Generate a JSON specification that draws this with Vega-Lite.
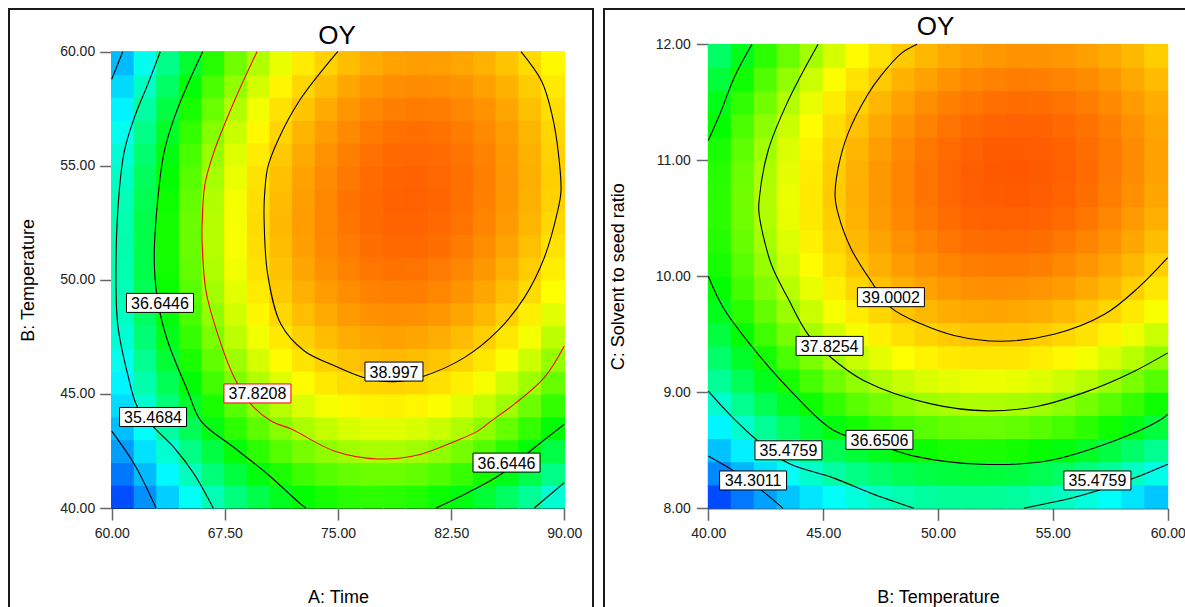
{
"$schema": "https://vega.github.io/schema/vega-lite/v6.json",
"padding": {"left": 8, "top": 8, "right": 0, "bottom": 0},
"background": "#ffffff",
"spacing": 9,
"config": {
  "view": {"stroke": "#1a1a1a", "strokeWidth": 2},
  "font": "Liberation Sans",
  "axis": {"grid": false, "labelFont": "Liberation Sans", "titleFont": "Liberation Sans", "labelFontSize": 14, "labelColor": "#222222", "titleFontSize": 18, "titleFontWeight": "normal", "titleColor": "#000000", "tickSize": 12, "tickColor": "#666666", "tickWidth": 1.5, "domainColor": "#000000", "domainWidth": 1, "labelFlush": false, "labelOverlap": false}
},
"datasets": {
"L": [
{"x":60.75,"y":40.5,"oy":33.62},{"x":62.25,"y":40.5,"oy":34.21},{"x":63.75,"y":40.5,"oy":34.75},{"x":65.25,"y":40.5,"oy":35.24},{"x":66.75,"y":40.5,"oy":35.67},{"x":68.25,"y":40.5,"oy":36.04},{"x":69.75,"y":40.5,"oy":36.36},{"x":71.25,"y":40.5,"oy":36.63},{"x":72.75,"y":40.5,"oy":36.84},{"x":74.25,"y":40.5,"oy":36.99},{"x":75.75,"y":40.5,"oy":37.09},{"x":77.25,"y":40.5,"oy":37.13},{"x":78.75,"y":40.5,"oy":37.12},{"x":80.25,"y":40.5,"oy":37.05},{"x":81.75,"y":40.5,"oy":36.93},{"x":83.25,"y":40.5,"oy":36.75},{"x":84.75,"y":40.5,"oy":36.51},{"x":86.25,"y":40.5,"oy":36.22},{"x":87.75,"y":40.5,"oy":35.88},{"x":89.25,"y":40.5,"oy":35.48},
{"x":60.75,"y":41.5,"oy":33.98},{"x":62.25,"y":41.5,"oy":34.59},{"x":63.75,"y":41.5,"oy":35.13},{"x":65.25,"y":41.5,"oy":35.62},{"x":66.75,"y":41.5,"oy":36.06},{"x":68.25,"y":41.5,"oy":36.44},{"x":69.75,"y":41.5,"oy":36.77},{"x":71.25,"y":41.5,"oy":37.03},{"x":72.75,"y":41.5,"oy":37.25},{"x":74.25,"y":41.5,"oy":37.41},{"x":75.75,"y":41.5,"oy":37.51},{"x":77.25,"y":41.5,"oy":37.56},{"x":78.75,"y":41.5,"oy":37.55},{"x":80.25,"y":41.5,"oy":37.49},{"x":81.75,"y":41.5,"oy":37.37},{"x":83.25,"y":41.5,"oy":37.2},{"x":84.75,"y":41.5,"oy":36.97},{"x":86.25,"y":41.5,"oy":36.69},{"x":87.75,"y":41.5,"oy":36.35},{"x":89.25,"y":41.5,"oy":35.96},
{"x":60.75,"y":42.5,"oy":34.32},{"x":62.25,"y":42.5,"oy":34.92},{"x":63.75,"y":42.5,"oy":35.48},{"x":65.25,"y":42.5,"oy":35.97},{"x":66.75,"y":42.5,"oy":36.41},{"x":68.25,"y":42.5,"oy":36.8},{"x":69.75,"y":42.5,"oy":37.13},{"x":71.25,"y":42.5,"oy":37.41},{"x":72.75,"y":42.5,"oy":37.63},{"x":74.25,"y":42.5,"oy":37.79},{"x":75.75,"y":42.5,"oy":37.9},{"x":77.25,"y":42.5,"oy":37.96},{"x":78.75,"y":42.5,"oy":37.96},{"x":80.25,"y":42.5,"oy":37.9},{"x":81.75,"y":42.5,"oy":37.79},{"x":83.25,"y":42.5,"oy":37.62},{"x":84.75,"y":42.5,"oy":37.4},{"x":86.25,"y":42.5,"oy":37.12},{"x":87.75,"y":42.5,"oy":36.79},{"x":89.25,"y":42.5,"oy":36.4},
{"x":60.75,"y":43.5,"oy":34.61},{"x":62.25,"y":43.5,"oy":35.22},{"x":63.75,"y":43.5,"oy":35.78},{"x":65.25,"y":43.5,"oy":36.29},{"x":66.75,"y":43.5,"oy":36.73},{"x":68.25,"y":43.5,"oy":37.13},{"x":69.75,"y":43.5,"oy":37.46},{"x":71.25,"y":43.5,"oy":37.74},{"x":72.75,"y":43.5,"oy":37.97},{"x":74.25,"y":43.5,"oy":38.14},{"x":75.75,"y":43.5,"oy":38.26},{"x":77.25,"y":43.5,"oy":38.32},{"x":78.75,"y":43.5,"oy":38.32},{"x":80.25,"y":43.5,"oy":38.27},{"x":81.75,"y":43.5,"oy":38.17},{"x":83.25,"y":43.5,"oy":38.0},{"x":84.75,"y":43.5,"oy":37.79},{"x":86.25,"y":43.5,"oy":37.52},{"x":87.75,"y":43.5,"oy":37.19},{"x":89.25,"y":43.5,"oy":36.81},
{"x":60.75,"y":44.5,"oy":34.87},{"x":62.25,"y":44.5,"oy":35.49},{"x":63.75,"y":44.5,"oy":36.06},{"x":65.25,"y":44.5,"oy":36.57},{"x":66.75,"y":44.5,"oy":37.02},{"x":68.25,"y":44.5,"oy":37.42},{"x":69.75,"y":44.5,"oy":37.76},{"x":71.25,"y":44.5,"oy":38.05},{"x":72.75,"y":44.5,"oy":38.28},{"x":74.25,"y":44.5,"oy":38.46},{"x":75.75,"y":44.5,"oy":38.58},{"x":77.25,"y":44.5,"oy":38.64},{"x":78.75,"y":44.5,"oy":38.65},{"x":80.25,"y":44.5,"oy":38.61},{"x":81.75,"y":44.5,"oy":38.51},{"x":83.25,"y":44.5,"oy":38.35},{"x":84.75,"y":44.5,"oy":38.14},{"x":86.25,"y":44.5,"oy":37.88},{"x":87.75,"y":44.5,"oy":37.56},{"x":89.25,"y":44.5,"oy":37.18},
{"x":60.75,"y":45.5,"oy":35.1},{"x":62.25,"y":45.5,"oy":35.72},{"x":63.75,"y":45.5,"oy":36.29},{"x":65.25,"y":45.5,"oy":36.81},{"x":66.75,"y":45.5,"oy":37.27},{"x":68.25,"y":45.5,"oy":37.67},{"x":69.75,"y":45.5,"oy":38.02},{"x":71.25,"y":45.5,"oy":38.31},{"x":72.75,"y":45.5,"oy":38.55},{"x":74.25,"y":45.5,"oy":38.74},{"x":75.75,"y":45.5,"oy":38.86},{"x":77.25,"y":45.5,"oy":38.93},{"x":78.75,"y":45.5,"oy":38.95},{"x":80.25,"y":45.5,"oy":38.91},{"x":81.75,"y":45.5,"oy":38.82},{"x":83.25,"y":45.5,"oy":38.67},{"x":84.75,"y":45.5,"oy":38.46},{"x":86.25,"y":45.5,"oy":38.2},{"x":87.75,"y":45.5,"oy":37.89},{"x":89.25,"y":45.5,"oy":37.52},
{"x":60.75,"y":46.5,"oy":35.29},{"x":62.25,"y":46.5,"oy":35.92},{"x":63.75,"y":46.5,"oy":36.5},{"x":65.25,"y":46.5,"oy":37.02},{"x":66.75,"y":46.5,"oy":37.48},{"x":68.25,"y":46.5,"oy":37.89},{"x":69.75,"y":46.5,"oy":38.25},{"x":71.25,"y":46.5,"oy":38.55},{"x":72.75,"y":46.5,"oy":38.79},{"x":74.25,"y":46.5,"oy":38.98},{"x":75.75,"y":46.5,"oy":39.11},{"x":77.25,"y":46.5,"oy":39.19},{"x":78.75,"y":46.5,"oy":39.21},{"x":80.25,"y":46.5,"oy":39.18},{"x":81.75,"y":46.5,"oy":39.09},{"x":83.25,"y":46.5,"oy":38.95},{"x":84.75,"y":46.5,"oy":38.75},{"x":86.25,"y":46.5,"oy":38.5},{"x":87.75,"y":46.5,"oy":38.19},{"x":89.25,"y":46.5,"oy":37.82},
{"x":60.75,"y":47.5,"oy":35.45},{"x":62.25,"y":47.5,"oy":36.08},{"x":63.75,"y":47.5,"oy":36.67},{"x":65.25,"y":47.5,"oy":37.19},{"x":66.75,"y":47.5,"oy":37.66},{"x":68.25,"y":47.5,"oy":38.08},{"x":69.75,"y":47.5,"oy":38.44},{"x":71.25,"y":47.5,"oy":38.74},{"x":72.75,"y":47.5,"oy":38.99},{"x":74.25,"y":47.5,"oy":39.19},{"x":75.75,"y":47.5,"oy":39.33},{"x":77.25,"y":47.5,"oy":39.41},{"x":78.75,"y":47.5,"oy":39.44},{"x":80.25,"y":47.5,"oy":39.41},{"x":81.75,"y":47.5,"oy":39.33},{"x":83.25,"y":47.5,"oy":39.19},{"x":84.75,"y":47.5,"oy":39.0},{"x":86.25,"y":47.5,"oy":38.75},{"x":87.75,"y":47.5,"oy":38.45},{"x":89.25,"y":47.5,"oy":38.09},
{"x":60.75,"y":48.5,"oy":35.57},{"x":62.25,"y":48.5,"oy":36.21},{"x":63.75,"y":48.5,"oy":36.8},{"x":65.25,"y":48.5,"oy":37.33},{"x":66.75,"y":48.5,"oy":37.81},{"x":68.25,"y":48.5,"oy":38.23},{"x":69.75,"y":48.5,"oy":38.6},{"x":71.25,"y":48.5,"oy":38.91},{"x":72.75,"y":48.5,"oy":39.16},{"x":74.25,"y":48.5,"oy":39.36},{"x":75.75,"y":48.5,"oy":39.51},{"x":77.25,"y":48.5,"oy":39.6},{"x":78.75,"y":48.5,"oy":39.63},{"x":80.25,"y":48.5,"oy":39.61},{"x":81.75,"y":48.5,"oy":39.54},{"x":83.25,"y":48.5,"oy":39.4},{"x":84.75,"y":48.5,"oy":39.22},{"x":86.25,"y":48.5,"oy":38.98},{"x":87.75,"y":48.5,"oy":38.68},{"x":89.25,"y":48.5,"oy":38.33},
{"x":60.75,"y":49.5,"oy":35.65},{"x":62.25,"y":49.5,"oy":36.3},{"x":63.75,"y":49.5,"oy":36.9},{"x":65.25,"y":49.5,"oy":37.43},{"x":66.75,"y":49.5,"oy":37.92},{"x":68.25,"y":49.5,"oy":38.35},{"x":69.75,"y":49.5,"oy":38.72},{"x":71.25,"y":49.5,"oy":39.04},{"x":72.75,"y":49.5,"oy":39.3},{"x":74.25,"y":49.5,"oy":39.5},{"x":75.75,"y":49.5,"oy":39.65},{"x":77.25,"y":49.5,"oy":39.75},{"x":78.75,"y":49.5,"oy":39.79},{"x":80.25,"y":49.5,"oy":39.78},{"x":81.75,"y":49.5,"oy":39.71},{"x":83.25,"y":49.5,"oy":39.58},{"x":84.75,"y":49.5,"oy":39.4},{"x":86.25,"y":49.5,"oy":39.16},{"x":87.75,"y":49.5,"oy":38.87},{"x":89.25,"y":49.5,"oy":38.52},
{"x":60.75,"y":50.5,"oy":35.7},{"x":62.25,"y":50.5,"oy":36.36},{"x":63.75,"y":50.5,"oy":36.96},{"x":65.25,"y":50.5,"oy":37.5},{"x":66.75,"y":50.5,"oy":37.99},{"x":68.25,"y":50.5,"oy":38.43},{"x":69.75,"y":50.5,"oy":38.8},{"x":71.25,"y":50.5,"oy":39.13},{"x":72.75,"y":50.5,"oy":39.4},{"x":74.25,"y":50.5,"oy":39.61},{"x":75.75,"y":50.5,"oy":39.76},{"x":77.25,"y":50.5,"oy":39.87},{"x":78.75,"y":50.5,"oy":39.91},{"x":80.25,"y":50.5,"oy":39.9},{"x":81.75,"y":50.5,"oy":39.84},{"x":83.25,"y":50.5,"oy":39.72},{"x":84.75,"y":50.5,"oy":39.54},{"x":86.25,"y":50.5,"oy":39.31},{"x":87.75,"y":50.5,"oy":39.03},{"x":89.25,"y":50.5,"oy":38.69},
{"x":60.75,"y":51.5,"oy":35.72},{"x":62.25,"y":51.5,"oy":36.38},{"x":63.75,"y":51.5,"oy":36.99},{"x":65.25,"y":51.5,"oy":37.54},{"x":66.75,"y":51.5,"oy":38.03},{"x":68.25,"y":51.5,"oy":38.47},{"x":69.75,"y":51.5,"oy":38.86},{"x":71.25,"y":51.5,"oy":39.18},{"x":72.75,"y":51.5,"oy":39.46},{"x":74.25,"y":51.5,"oy":39.68},{"x":75.75,"y":51.5,"oy":39.84},{"x":77.25,"y":51.5,"oy":39.95},{"x":78.75,"y":51.5,"oy":40.0},{"x":80.25,"y":51.5,"oy":40.0},{"x":81.75,"y":51.5,"oy":39.94},{"x":83.25,"y":51.5,"oy":39.82},{"x":84.75,"y":51.5,"oy":39.65},{"x":86.25,"y":51.5,"oy":39.43},{"x":87.75,"y":51.5,"oy":39.15},{"x":89.25,"y":51.5,"oy":38.81},
{"x":60.75,"y":52.5,"oy":35.7},{"x":62.25,"y":52.5,"oy":36.37},{"x":63.75,"y":52.5,"oy":36.98},{"x":65.25,"y":52.5,"oy":37.54},{"x":66.75,"y":52.5,"oy":38.04},{"x":68.25,"y":52.5,"oy":38.48},{"x":69.75,"y":52.5,"oy":38.87},{"x":71.25,"y":52.5,"oy":39.21},{"x":72.75,"y":52.5,"oy":39.49},{"x":74.25,"y":52.5,"oy":39.71},{"x":75.75,"y":52.5,"oy":39.88},{"x":77.25,"y":52.5,"oy":39.99},{"x":78.75,"y":52.5,"oy":40.05},{"x":80.25,"y":52.5,"oy":40.05},{"x":81.75,"y":52.5,"oy":40.0},{"x":83.25,"y":52.5,"oy":39.89},{"x":84.75,"y":52.5,"oy":39.73},{"x":86.25,"y":52.5,"oy":39.51},{"x":87.75,"y":52.5,"oy":39.24},{"x":89.25,"y":52.5,"oy":38.91},
{"x":60.75,"y":53.5,"oy":35.65},{"x":62.25,"y":53.5,"oy":36.32},{"x":63.75,"y":53.5,"oy":36.94},{"x":65.25,"y":53.5,"oy":37.5},{"x":66.75,"y":53.5,"oy":38.01},{"x":68.25,"y":53.5,"oy":38.46},{"x":69.75,"y":53.5,"oy":38.85},{"x":71.25,"y":53.5,"oy":39.19},{"x":72.75,"y":53.5,"oy":39.48},{"x":74.25,"y":53.5,"oy":39.71},{"x":75.75,"y":53.5,"oy":39.89},{"x":77.25,"y":53.5,"oy":40.0},{"x":78.75,"y":53.5,"oy":40.07},{"x":80.25,"y":53.5,"oy":40.08},{"x":81.75,"y":53.5,"oy":40.03},{"x":83.25,"y":53.5,"oy":39.93},{"x":84.75,"y":53.5,"oy":39.77},{"x":86.25,"y":53.5,"oy":39.56},{"x":87.75,"y":53.5,"oy":39.29},{"x":89.25,"y":53.5,"oy":38.97},
{"x":60.75,"y":54.5,"oy":35.56},{"x":62.25,"y":54.5,"oy":36.24},{"x":63.75,"y":54.5,"oy":36.86},{"x":65.25,"y":54.5,"oy":37.43},{"x":66.75,"y":54.5,"oy":37.94},{"x":68.25,"y":54.5,"oy":38.4},{"x":69.75,"y":54.5,"oy":38.8},{"x":71.25,"y":54.5,"oy":39.15},{"x":72.75,"y":54.5,"oy":39.44},{"x":74.25,"y":54.5,"oy":39.67},{"x":75.75,"y":54.5,"oy":39.86},{"x":77.25,"y":54.5,"oy":39.98},{"x":78.75,"y":54.5,"oy":40.05},{"x":80.25,"y":54.5,"oy":40.07},{"x":81.75,"y":54.5,"oy":40.02},{"x":83.25,"y":54.5,"oy":39.93},{"x":84.75,"y":54.5,"oy":39.78},{"x":86.25,"y":54.5,"oy":39.57},{"x":87.75,"y":54.5,"oy":39.31},{"x":89.25,"y":54.5,"oy":38.99},
{"x":60.75,"y":55.5,"oy":35.44},{"x":62.25,"y":55.5,"oy":36.12},{"x":63.75,"y":55.5,"oy":36.75},{"x":65.25,"y":55.5,"oy":37.32},{"x":66.75,"y":55.5,"oy":37.84},{"x":68.25,"y":55.5,"oy":38.3},{"x":69.75,"y":55.5,"oy":38.71},{"x":71.25,"y":55.5,"oy":39.06},{"x":72.75,"y":55.5,"oy":39.36},{"x":74.25,"y":55.5,"oy":39.6},{"x":75.75,"y":55.5,"oy":39.79},{"x":77.25,"y":55.5,"oy":39.92},{"x":78.75,"y":55.5,"oy":40.0},{"x":80.25,"y":55.5,"oy":40.02},{"x":81.75,"y":55.5,"oy":39.98},{"x":83.25,"y":55.5,"oy":39.89},{"x":84.75,"y":55.5,"oy":39.75},{"x":86.25,"y":55.5,"oy":39.55},{"x":87.75,"y":55.5,"oy":39.29},{"x":89.25,"y":55.5,"oy":38.98},
{"x":60.75,"y":56.5,"oy":35.28},{"x":62.25,"y":56.5,"oy":35.97},{"x":63.75,"y":56.5,"oy":36.6},{"x":65.25,"y":56.5,"oy":37.18},{"x":66.75,"y":56.5,"oy":37.71},{"x":68.25,"y":56.5,"oy":38.18},{"x":69.75,"y":56.5,"oy":38.59},{"x":71.25,"y":56.5,"oy":38.95},{"x":72.75,"y":56.5,"oy":39.25},{"x":74.25,"y":56.5,"oy":39.5},{"x":75.75,"y":56.5,"oy":39.69},{"x":77.25,"y":56.5,"oy":39.83},{"x":78.75,"y":56.5,"oy":39.91},{"x":80.25,"y":56.5,"oy":39.94},{"x":81.75,"y":56.5,"oy":39.91},{"x":83.25,"y":56.5,"oy":39.82},{"x":84.75,"y":56.5,"oy":39.68},{"x":86.25,"y":56.5,"oy":39.49},{"x":87.75,"y":56.5,"oy":39.24},{"x":89.25,"y":56.5,"oy":38.93},
{"x":60.75,"y":57.5,"oy":35.08},{"x":62.25,"y":57.5,"oy":35.78},{"x":63.75,"y":57.5,"oy":36.42},{"x":65.25,"y":57.5,"oy":37.01},{"x":66.75,"y":57.5,"oy":37.54},{"x":68.25,"y":57.5,"oy":38.01},{"x":69.75,"y":57.5,"oy":38.43},{"x":71.25,"y":57.5,"oy":38.8},{"x":72.75,"y":57.5,"oy":39.1},{"x":74.25,"y":57.5,"oy":39.36},{"x":75.75,"y":57.5,"oy":39.56},{"x":77.25,"y":57.5,"oy":39.7},{"x":78.75,"y":57.5,"oy":39.79},{"x":80.25,"y":57.5,"oy":39.82},{"x":81.75,"y":57.5,"oy":39.8},{"x":83.25,"y":57.5,"oy":39.72},{"x":84.75,"y":57.5,"oy":39.58},{"x":86.25,"y":57.5,"oy":39.4},{"x":87.75,"y":57.5,"oy":39.15},{"x":89.25,"y":57.5,"oy":38.85},
{"x":60.75,"y":58.5,"oy":34.85},{"x":62.25,"y":58.5,"oy":35.56},{"x":63.75,"y":58.5,"oy":36.2},{"x":65.25,"y":58.5,"oy":36.79},{"x":66.75,"y":58.5,"oy":37.33},{"x":68.25,"y":58.5,"oy":37.81},{"x":69.75,"y":58.5,"oy":38.24},{"x":71.25,"y":58.5,"oy":38.61},{"x":72.75,"y":58.5,"oy":38.92},{"x":74.25,"y":58.5,"oy":39.18},{"x":75.75,"y":58.5,"oy":39.39},{"x":77.25,"y":58.5,"oy":39.54},{"x":78.75,"y":58.5,"oy":39.63},{"x":80.25,"y":58.5,"oy":39.67},{"x":81.75,"y":58.5,"oy":39.65},{"x":83.25,"y":58.5,"oy":39.58},{"x":84.75,"y":58.5,"oy":39.45},{"x":86.25,"y":58.5,"oy":39.27},{"x":87.75,"y":58.5,"oy":39.03},{"x":89.25,"y":58.5,"oy":38.73},
{"x":60.75,"y":59.5,"oy":34.59},{"x":62.25,"y":59.5,"oy":35.3},{"x":63.75,"y":59.5,"oy":35.95},{"x":65.25,"y":59.5,"oy":36.55},{"x":66.75,"y":59.5,"oy":37.09},{"x":68.25,"y":59.5,"oy":37.58},{"x":69.75,"y":59.5,"oy":38.01},{"x":71.25,"y":59.5,"oy":38.38},{"x":72.75,"y":59.5,"oy":38.71},{"x":74.25,"y":59.5,"oy":38.97},{"x":75.75,"y":59.5,"oy":39.18},{"x":77.25,"y":59.5,"oy":39.34},{"x":78.75,"y":59.5,"oy":39.44},{"x":80.25,"y":59.5,"oy":39.48},{"x":81.75,"y":59.5,"oy":39.47},{"x":83.25,"y":59.5,"oy":39.4},{"x":84.75,"y":59.5,"oy":39.28},{"x":86.25,"y":59.5,"oy":39.1},{"x":87.75,"y":59.5,"oy":38.87},{"x":89.25,"y":59.5,"oy":38.58}
],
"R": [
{"x":40.5,"y":8.1,"oy":33.6},{"x":41.5,"y":8.1,"oy":33.99},{"x":42.5,"y":8.1,"oy":34.35},{"x":43.5,"y":8.1,"oy":34.67},{"x":44.5,"y":8.1,"oy":34.96},{"x":45.5,"y":8.1,"oy":35.2},{"x":46.5,"y":8.1,"oy":35.41},{"x":47.5,"y":8.1,"oy":35.58},{"x":48.5,"y":8.1,"oy":35.71},{"x":49.5,"y":8.1,"oy":35.81},{"x":50.5,"y":8.1,"oy":35.86},{"x":51.5,"y":8.1,"oy":35.88},{"x":52.5,"y":8.1,"oy":35.86},{"x":53.5,"y":8.1,"oy":35.81},{"x":54.5,"y":8.1,"oy":35.71},{"x":55.5,"y":8.1,"oy":35.58},{"x":56.5,"y":8.1,"oy":35.42},{"x":57.5,"y":8.1,"oy":35.21},{"x":58.5,"y":8.1,"oy":34.96},{"x":59.5,"y":8.1,"oy":34.68},
{"x":40.5,"y":8.3,"oy":34.14},{"x":41.5,"y":8.3,"oy":34.54},{"x":42.5,"y":8.3,"oy":34.9},{"x":43.5,"y":8.3,"oy":35.23},{"x":44.5,"y":8.3,"oy":35.52},{"x":45.5,"y":8.3,"oy":35.77},{"x":46.5,"y":8.3,"oy":35.98},{"x":47.5,"y":8.3,"oy":36.15},{"x":48.5,"y":8.3,"oy":36.29},{"x":49.5,"y":8.3,"oy":36.39},{"x":50.5,"y":8.3,"oy":36.45},{"x":51.5,"y":8.3,"oy":36.48},{"x":52.5,"y":8.3,"oy":36.46},{"x":53.5,"y":8.3,"oy":36.41},{"x":54.5,"y":8.3,"oy":36.32},{"x":55.5,"y":8.3,"oy":36.2},{"x":56.5,"y":8.3,"oy":36.03},{"x":57.5,"y":8.3,"oy":35.83},{"x":58.5,"y":8.3,"oy":35.59},{"x":59.5,"y":8.3,"oy":35.32},
{"x":40.5,"y":8.5,"oy":34.64},{"x":41.5,"y":8.5,"oy":35.04},{"x":42.5,"y":8.5,"oy":35.41},{"x":43.5,"y":8.5,"oy":35.74},{"x":44.5,"y":8.5,"oy":36.03},{"x":45.5,"y":8.5,"oy":36.29},{"x":46.5,"y":8.5,"oy":36.5},{"x":47.5,"y":8.5,"oy":36.68},{"x":48.5,"y":8.5,"oy":36.83},{"x":49.5,"y":8.5,"oy":36.93},{"x":50.5,"y":8.5,"oy":37.0},{"x":51.5,"y":8.5,"oy":37.03},{"x":52.5,"y":8.5,"oy":37.02},{"x":53.5,"y":8.5,"oy":36.97},{"x":54.5,"y":8.5,"oy":36.89},{"x":55.5,"y":8.5,"oy":36.77},{"x":56.5,"y":8.5,"oy":36.61},{"x":57.5,"y":8.5,"oy":36.41},{"x":58.5,"y":8.5,"oy":36.18},{"x":59.5,"y":8.5,"oy":35.9},
{"x":40.5,"y":8.7,"oy":35.09},{"x":41.5,"y":8.7,"oy":35.5},{"x":42.5,"y":8.7,"oy":35.87},{"x":43.5,"y":8.7,"oy":36.21},{"x":44.5,"y":8.7,"oy":36.5},{"x":45.5,"y":8.7,"oy":36.76},{"x":46.5,"y":8.7,"oy":36.98},{"x":47.5,"y":8.7,"oy":37.17},{"x":48.5,"y":8.7,"oy":37.32},{"x":49.5,"y":8.7,"oy":37.43},{"x":50.5,"y":8.7,"oy":37.5},{"x":51.5,"y":8.7,"oy":37.53},{"x":52.5,"y":8.7,"oy":37.53},{"x":53.5,"y":8.7,"oy":37.49},{"x":54.5,"y":8.7,"oy":37.41},{"x":55.5,"y":8.7,"oy":37.29},{"x":56.5,"y":8.7,"oy":37.14},{"x":57.5,"y":8.7,"oy":36.94},{"x":58.5,"y":8.7,"oy":36.71},{"x":59.5,"y":8.7,"oy":36.45},
{"x":40.5,"y":8.9,"oy":35.49},{"x":41.5,"y":8.9,"oy":35.91},{"x":42.5,"y":8.9,"oy":36.29},{"x":43.5,"y":8.9,"oy":36.63},{"x":44.5,"y":8.9,"oy":36.93},{"x":45.5,"y":8.9,"oy":37.19},{"x":46.5,"y":8.9,"oy":37.42},{"x":47.5,"y":8.9,"oy":37.61},{"x":48.5,"y":8.9,"oy":37.76},{"x":49.5,"y":8.9,"oy":37.88},{"x":50.5,"y":8.9,"oy":37.95},{"x":51.5,"y":8.9,"oy":37.99},{"x":52.5,"y":8.9,"oy":37.99},{"x":53.5,"y":8.9,"oy":37.95},{"x":54.5,"y":8.9,"oy":37.88},{"x":55.5,"y":8.9,"oy":37.77},{"x":56.5,"y":8.9,"oy":37.62},{"x":57.5,"y":8.9,"oy":37.43},{"x":58.5,"y":8.9,"oy":37.21},{"x":59.5,"y":8.9,"oy":36.94},
{"x":40.5,"y":9.1,"oy":35.86},{"x":41.5,"y":9.1,"oy":36.28},{"x":42.5,"y":9.1,"oy":36.66},{"x":43.5,"y":9.1,"oy":37.0},{"x":44.5,"y":9.1,"oy":37.31},{"x":45.5,"y":9.1,"oy":37.58},{"x":46.5,"y":9.1,"oy":37.81},{"x":47.5,"y":9.1,"oy":38.0},{"x":48.5,"y":9.1,"oy":38.16},{"x":49.5,"y":9.1,"oy":38.28},{"x":50.5,"y":9.1,"oy":38.36},{"x":51.5,"y":9.1,"oy":38.4},{"x":52.5,"y":9.1,"oy":38.41},{"x":53.5,"y":9.1,"oy":38.38},{"x":54.5,"y":9.1,"oy":38.31},{"x":55.5,"y":9.1,"oy":38.2},{"x":56.5,"y":9.1,"oy":38.06},{"x":57.5,"y":9.1,"oy":37.87},{"x":58.5,"y":9.1,"oy":37.65},{"x":59.5,"y":9.1,"oy":37.4},
{"x":40.5,"y":9.3,"oy":36.17},{"x":41.5,"y":9.3,"oy":36.6},{"x":42.5,"y":9.3,"oy":36.98},{"x":43.5,"y":9.3,"oy":37.33},{"x":44.5,"y":9.3,"oy":37.65},{"x":45.5,"y":9.3,"oy":37.92},{"x":46.5,"y":9.3,"oy":38.16},{"x":47.5,"y":9.3,"oy":38.36},{"x":48.5,"y":9.3,"oy":38.52},{"x":49.5,"y":9.3,"oy":38.64},{"x":50.5,"y":9.3,"oy":38.73},{"x":51.5,"y":9.3,"oy":38.77},{"x":52.5,"y":9.3,"oy":38.78},{"x":53.5,"y":9.3,"oy":38.76},{"x":54.5,"y":9.3,"oy":38.69},{"x":55.5,"y":9.3,"oy":38.59},{"x":56.5,"y":9.3,"oy":38.45},{"x":57.5,"y":9.3,"oy":38.27},{"x":58.5,"y":9.3,"oy":38.06},{"x":59.5,"y":9.3,"oy":37.81},
{"x":40.5,"y":9.5,"oy":36.44},{"x":41.5,"y":9.5,"oy":36.87},{"x":42.5,"y":9.5,"oy":37.27},{"x":43.5,"y":9.5,"oy":37.62},{"x":44.5,"y":9.5,"oy":37.94},{"x":45.5,"y":9.5,"oy":38.22},{"x":46.5,"y":9.5,"oy":38.46},{"x":47.5,"y":9.5,"oy":38.66},{"x":48.5,"y":9.5,"oy":38.83},{"x":49.5,"y":9.5,"oy":38.96},{"x":50.5,"y":9.5,"oy":39.05},{"x":51.5,"y":9.5,"oy":39.1},{"x":52.5,"y":9.5,"oy":39.11},{"x":53.5,"y":9.5,"oy":39.09},{"x":54.5,"y":9.5,"oy":39.03},{"x":55.5,"y":9.5,"oy":38.93},{"x":56.5,"y":9.5,"oy":38.8},{"x":57.5,"y":9.5,"oy":38.63},{"x":58.5,"y":9.5,"oy":38.42},{"x":59.5,"y":9.5,"oy":38.17},
{"x":40.5,"y":9.7,"oy":36.67},{"x":41.5,"y":9.7,"oy":37.11},{"x":42.5,"y":9.7,"oy":37.5},{"x":43.5,"y":9.7,"oy":37.86},{"x":44.5,"y":9.7,"oy":38.18},{"x":45.5,"y":9.7,"oy":38.47},{"x":46.5,"y":9.7,"oy":38.71},{"x":47.5,"y":9.7,"oy":38.92},{"x":48.5,"y":9.7,"oy":39.09},{"x":49.5,"y":9.7,"oy":39.22},{"x":50.5,"y":9.7,"oy":39.32},{"x":51.5,"y":9.7,"oy":39.38},{"x":52.5,"y":9.7,"oy":39.4},{"x":53.5,"y":9.7,"oy":39.38},{"x":54.5,"y":9.7,"oy":39.33},{"x":55.5,"y":9.7,"oy":39.23},{"x":56.5,"y":9.7,"oy":39.1},{"x":57.5,"y":9.7,"oy":38.93},{"x":58.5,"y":9.7,"oy":38.73},{"x":59.5,"y":9.7,"oy":38.49},
{"x":40.5,"y":9.9,"oy":36.85},{"x":41.5,"y":9.9,"oy":37.29},{"x":42.5,"y":9.9,"oy":37.69},{"x":43.5,"y":9.9,"oy":38.06},{"x":44.5,"y":9.9,"oy":38.38},{"x":45.5,"y":9.9,"oy":38.67},{"x":46.5,"y":9.9,"oy":38.92},{"x":47.5,"y":9.9,"oy":39.14},{"x":48.5,"y":9.9,"oy":39.31},{"x":49.5,"y":9.9,"oy":39.45},{"x":50.5,"y":9.9,"oy":39.55},{"x":51.5,"y":9.9,"oy":39.61},{"x":52.5,"y":9.9,"oy":39.64},{"x":53.5,"y":9.9,"oy":39.62},{"x":54.5,"y":9.9,"oy":39.57},{"x":55.5,"y":9.9,"oy":39.49},{"x":56.5,"y":9.9,"oy":39.36},{"x":57.5,"y":9.9,"oy":39.2},{"x":58.5,"y":9.9,"oy":39.0},{"x":59.5,"y":9.9,"oy":38.76},
{"x":40.5,"y":10.1,"oy":36.99},{"x":41.5,"y":10.1,"oy":37.43},{"x":42.5,"y":10.1,"oy":37.84},{"x":43.5,"y":10.1,"oy":38.21},{"x":44.5,"y":10.1,"oy":38.54},{"x":45.5,"y":10.1,"oy":38.83},{"x":46.5,"y":10.1,"oy":39.09},{"x":47.5,"y":10.1,"oy":39.31},{"x":48.5,"y":10.1,"oy":39.49},{"x":49.5,"y":10.1,"oy":39.63},{"x":50.5,"y":10.1,"oy":39.73},{"x":51.5,"y":10.1,"oy":39.8},{"x":52.5,"y":10.1,"oy":39.83},{"x":53.5,"y":10.1,"oy":39.82},{"x":54.5,"y":10.1,"oy":39.78},{"x":55.5,"y":10.1,"oy":39.69},{"x":56.5,"y":10.1,"oy":39.57},{"x":57.5,"y":10.1,"oy":39.42},{"x":58.5,"y":10.1,"oy":39.22},{"x":59.5,"y":10.1,"oy":38.99},
{"x":40.5,"y":10.3,"oy":37.08},{"x":41.5,"y":10.3,"oy":37.53},{"x":42.5,"y":10.3,"oy":37.94},{"x":43.5,"y":10.3,"oy":38.31},{"x":44.5,"y":10.3,"oy":38.65},{"x":45.5,"y":10.3,"oy":38.95},{"x":46.5,"y":10.3,"oy":39.21},{"x":47.5,"y":10.3,"oy":39.43},{"x":48.5,"y":10.3,"oy":39.62},{"x":49.5,"y":10.3,"oy":39.76},{"x":50.5,"y":10.3,"oy":39.87},{"x":51.5,"y":10.3,"oy":39.95},{"x":52.5,"y":10.3,"oy":39.98},{"x":53.5,"y":10.3,"oy":39.98},{"x":54.5,"y":10.3,"oy":39.94},{"x":55.5,"y":10.3,"oy":39.86},{"x":56.5,"y":10.3,"oy":39.74},{"x":57.5,"y":10.3,"oy":39.59},{"x":58.5,"y":10.3,"oy":39.4},{"x":59.5,"y":10.3,"oy":39.17},
{"x":40.5,"y":10.5,"oy":37.13},{"x":41.5,"y":10.5,"oy":37.58},{"x":42.5,"y":10.5,"oy":38.0},{"x":43.5,"y":10.5,"oy":38.38},{"x":44.5,"y":10.5,"oy":38.72},{"x":45.5,"y":10.5,"oy":39.02},{"x":46.5,"y":10.5,"oy":39.28},{"x":47.5,"y":10.5,"oy":39.51},{"x":48.5,"y":10.5,"oy":39.7},{"x":49.5,"y":10.5,"oy":39.85},{"x":50.5,"y":10.5,"oy":39.97},{"x":51.5,"y":10.5,"oy":40.05},{"x":52.5,"y":10.5,"oy":40.09},{"x":53.5,"y":10.5,"oy":40.09},{"x":54.5,"y":10.5,"oy":40.05},{"x":55.5,"y":10.5,"oy":39.98},{"x":56.5,"y":10.5,"oy":39.87},{"x":57.5,"y":10.5,"oy":39.72},{"x":58.5,"y":10.5,"oy":39.53},{"x":59.5,"y":10.5,"oy":39.31},
{"x":40.5,"y":10.7,"oy":37.13},{"x":41.5,"y":10.7,"oy":37.59},{"x":42.5,"y":10.7,"oy":38.01},{"x":43.5,"y":10.7,"oy":38.39},{"x":44.5,"y":10.7,"oy":38.74},{"x":45.5,"y":10.7,"oy":39.04},{"x":46.5,"y":10.7,"oy":39.31},{"x":47.5,"y":10.7,"oy":39.55},{"x":48.5,"y":10.7,"oy":39.74},{"x":49.5,"y":10.7,"oy":39.9},{"x":50.5,"y":10.7,"oy":40.02},{"x":51.5,"y":10.7,"oy":40.1},{"x":52.5,"y":10.7,"oy":40.14},{"x":53.5,"y":10.7,"oy":40.15},{"x":54.5,"y":10.7,"oy":40.12},{"x":55.5,"y":10.7,"oy":40.05},{"x":56.5,"y":10.7,"oy":39.94},{"x":57.5,"y":10.7,"oy":39.8},{"x":58.5,"y":10.7,"oy":39.62},{"x":59.5,"y":10.7,"oy":39.4},
{"x":40.5,"y":10.9,"oy":37.09},{"x":41.5,"y":10.9,"oy":37.55},{"x":42.5,"y":10.9,"oy":37.97},{"x":43.5,"y":10.9,"oy":38.36},{"x":44.5,"y":10.9,"oy":38.71},{"x":45.5,"y":10.9,"oy":39.02},{"x":46.5,"y":10.9,"oy":39.3},{"x":47.5,"y":10.9,"oy":39.54},{"x":48.5,"y":10.9,"oy":39.74},{"x":49.5,"y":10.9,"oy":39.9},{"x":50.5,"y":10.9,"oy":40.02},{"x":51.5,"y":10.9,"oy":40.11},{"x":52.5,"y":10.9,"oy":40.16},{"x":53.5,"y":10.9,"oy":40.17},{"x":54.5,"y":10.9,"oy":40.14},{"x":55.5,"y":10.9,"oy":40.08},{"x":56.5,"y":10.9,"oy":39.98},{"x":57.5,"y":10.9,"oy":39.84},{"x":58.5,"y":10.9,"oy":39.66},{"x":59.5,"y":10.9,"oy":39.45},
{"x":40.5,"y":11.1,"oy":37.0},{"x":41.5,"y":11.1,"oy":37.47},{"x":42.5,"y":11.1,"oy":37.9},{"x":43.5,"y":11.1,"oy":38.29},{"x":44.5,"y":11.1,"oy":38.64},{"x":45.5,"y":11.1,"oy":38.96},{"x":46.5,"y":11.1,"oy":39.24},{"x":47.5,"y":11.1,"oy":39.48},{"x":48.5,"y":11.1,"oy":39.69},{"x":49.5,"y":11.1,"oy":39.85},{"x":50.5,"y":11.1,"oy":39.98},{"x":51.5,"y":11.1,"oy":40.07},{"x":52.5,"y":11.1,"oy":40.13},{"x":53.5,"y":11.1,"oy":40.14},{"x":54.5,"y":11.1,"oy":40.12},{"x":55.5,"y":11.1,"oy":40.06},{"x":56.5,"y":11.1,"oy":39.97},{"x":57.5,"y":11.1,"oy":39.83},{"x":58.5,"y":11.1,"oy":39.66},{"x":59.5,"y":11.1,"oy":39.45},
{"x":40.5,"y":11.3,"oy":36.86},{"x":41.5,"y":11.3,"oy":37.34},{"x":42.5,"y":11.3,"oy":37.77},{"x":43.5,"y":11.3,"oy":38.17},{"x":44.5,"y":11.3,"oy":38.53},{"x":45.5,"y":11.3,"oy":38.85},{"x":46.5,"y":11.3,"oy":39.14},{"x":47.5,"y":11.3,"oy":39.38},{"x":48.5,"y":11.3,"oy":39.59},{"x":49.5,"y":11.3,"oy":39.76},{"x":50.5,"y":11.3,"oy":39.9},{"x":51.5,"y":11.3,"oy":39.99},{"x":52.5,"y":11.3,"oy":40.05},{"x":53.5,"y":11.3,"oy":40.07},{"x":54.5,"y":11.3,"oy":40.06},{"x":55.5,"y":11.3,"oy":40.0},{"x":56.5,"y":11.3,"oy":39.91},{"x":57.5,"y":11.3,"oy":39.78},{"x":58.5,"y":11.3,"oy":39.61},{"x":59.5,"y":11.3,"oy":39.41},
{"x":40.5,"y":11.5,"oy":36.69},{"x":41.5,"y":11.5,"oy":37.16},{"x":42.5,"y":11.5,"oy":37.6},{"x":43.5,"y":11.5,"oy":38.01},{"x":44.5,"y":11.5,"oy":38.37},{"x":45.5,"y":11.5,"oy":38.7},{"x":46.5,"y":11.5,"oy":38.99},{"x":47.5,"y":11.5,"oy":39.24},{"x":48.5,"y":11.5,"oy":39.45},{"x":49.5,"y":11.5,"oy":39.63},{"x":50.5,"y":11.5,"oy":39.77},{"x":51.5,"y":11.5,"oy":39.87},{"x":52.5,"y":11.5,"oy":39.93},{"x":53.5,"y":11.5,"oy":39.96},{"x":54.5,"y":11.5,"oy":39.95},{"x":55.5,"y":11.5,"oy":39.9},{"x":56.5,"y":11.5,"oy":39.81},{"x":57.5,"y":11.5,"oy":39.68},{"x":58.5,"y":11.5,"oy":39.52},{"x":59.5,"y":11.5,"oy":39.32},
{"x":40.5,"y":11.7,"oy":36.46},{"x":41.5,"y":11.7,"oy":36.94},{"x":42.5,"y":11.7,"oy":37.39},{"x":43.5,"y":11.7,"oy":37.8},{"x":44.5,"y":11.7,"oy":38.17},{"x":45.5,"y":11.7,"oy":38.5},{"x":46.5,"y":11.7,"oy":38.79},{"x":47.5,"y":11.7,"oy":39.05},{"x":48.5,"y":11.7,"oy":39.27},{"x":49.5,"y":11.7,"oy":39.45},{"x":50.5,"y":11.7,"oy":39.59},{"x":51.5,"y":11.7,"oy":39.7},{"x":52.5,"y":11.7,"oy":39.76},{"x":53.5,"y":11.7,"oy":39.8},{"x":54.5,"y":11.7,"oy":39.79},{"x":55.5,"y":11.7,"oy":39.74},{"x":56.5,"y":11.7,"oy":39.66},{"x":57.5,"y":11.7,"oy":39.54},{"x":58.5,"y":11.7,"oy":39.38},{"x":59.5,"y":11.7,"oy":39.19},
{"x":40.5,"y":11.9,"oy":36.19},{"x":41.5,"y":11.9,"oy":36.68},{"x":42.5,"y":11.9,"oy":37.13},{"x":43.5,"y":11.9,"oy":37.54},{"x":44.5,"y":11.9,"oy":37.92},{"x":45.5,"y":11.9,"oy":38.25},{"x":46.5,"y":11.9,"oy":38.55},{"x":47.5,"y":11.9,"oy":38.81},{"x":48.5,"y":11.9,"oy":39.04},{"x":49.5,"y":11.9,"oy":39.22},{"x":50.5,"y":11.9,"oy":39.37},{"x":51.5,"y":11.9,"oy":39.48},{"x":52.5,"y":11.9,"oy":39.55},{"x":53.5,"y":11.9,"oy":39.59},{"x":54.5,"y":11.9,"oy":39.59},{"x":55.5,"y":11.9,"oy":39.55},{"x":56.5,"y":11.9,"oy":39.47},{"x":57.5,"y":11.9,"oy":39.36},{"x":58.5,"y":11.9,"oy":39.2},{"x":59.5,"y":11.9,"oy":39.01}
],
"LC": [
{"seg":"c1","lvl":34.29,"i":0,"x":60.73,"y":60},{"seg":"c1","lvl":34.29,"i":1,"x":60,"y":58.79},
{"seg":"c2","lvl":34.29,"i":0,"x":60,"y":43.37},{"seg":"c2","lvl":34.29,"i":1,"x":61.5,"y":41.92},{"seg":"c2","lvl":34.29,"i":2,"x":62.94,"y":40},
{"seg":"d1","lvl":35.4684,"i":0,"x":63.22,"y":60},{"seg":"d1","lvl":35.4684,"i":1,"x":62.39,"y":58.57},{"seg":"d1","lvl":35.4684,"i":2,"x":61.5,"y":57.11},{"seg":"d1","lvl":35.4684,"i":3,"x":60.84,"y":55.65},{"seg":"d1","lvl":35.4684,"i":4,"x":60.5,"y":53.89},{"seg":"d1","lvl":35.4684,"i":5,"x":60.29,"y":50.97},{"seg":"d1","lvl":35.4684,"i":6,"x":60.4,"y":48.05},{"seg":"d1","lvl":35.4684,"i":7,"x":61.06,"y":45.86},{"seg":"d1","lvl":35.4684,"i":8,"x":61.72,"y":44.4},{"seg":"d1","lvl":35.4684,"i":9,"x":62.72,"y":43.59},{"seg":"d1","lvl":35.4684,"i":10,"x":64.15,"y":42.64},{"seg":"d1","lvl":35.4684,"i":11,"x":65.47,"y":41.48},{"seg":"d1","lvl":35.4684,"i":12,"x":66.73,"y":40},
{"seg":"d2","lvl":35.4684,"i":0,"x":88.01,"y":40},{"seg":"d2","lvl":35.4684,"i":1,"x":90,"y":41.11},
{"seg":"e1","lvl":36.6446,"i":0,"x":66.03,"y":60},{"seg":"e1","lvl":36.6446,"i":1,"x":65.04,"y":58.57},{"seg":"e1","lvl":36.6446,"i":2,"x":64.15,"y":57.11},{"seg":"e1","lvl":36.6446,"i":3,"x":63.49,"y":55.65},{"seg":"e1","lvl":36.6446,"i":4,"x":63.16,"y":54.19},{"seg":"e1","lvl":36.6446,"i":5,"x":62.82,"y":50.97},{"seg":"e1","lvl":36.6446,"i":6,"x":63.05,"y":49.07},{"seg":"e1","lvl":36.6446,"i":7,"x":63.71,"y":47.32},{"seg":"e1","lvl":36.6446,"i":8,"x":65.04,"y":45.13},{"seg":"e1","lvl":36.6446,"i":9,"x":65.92,"y":43.81},{"seg":"e1","lvl":36.6446,"i":10,"x":68.13,"y":42.64},{"seg":"e1","lvl":36.6446,"i":11,"x":70.34,"y":41.48},{"seg":"e1","lvl":36.6446,"i":12,"x":72.55,"y":40.16},{"seg":"e1","lvl":36.6446,"i":13,"x":72.88,"y":40},
{"seg":"e2","lvl":36.6446,"i":0,"x":81.5,"y":40},{"seg":"e2","lvl":36.6446,"i":1,"x":83.6,"y":40.67},{"seg":"e2","lvl":36.6446,"i":2,"x":85.8,"y":41.48},{"seg":"e2","lvl":36.6446,"i":3,"x":88.01,"y":42.64},{"seg":"e2","lvl":36.6446,"i":4,"x":90,"y":43.67},
{"seg":"r","lvl":37.8208,"i":0,"x":69.63,"y":60},{"seg":"r","lvl":37.8208,"i":1,"x":68.13,"y":57.84},{"seg":"r","lvl":37.8208,"i":2,"x":66.8,"y":55.65},{"seg":"r","lvl":37.8208,"i":3,"x":66.18,"y":54.19},{"seg":"r","lvl":37.8208,"i":4,"x":66.0,"y":52.58},{"seg":"r","lvl":37.8208,"i":5,"x":65.99,"y":51.7},{"seg":"r","lvl":37.8208,"i":6,"x":66.25,"y":49.51},{"seg":"r","lvl":37.8208,"i":7,"x":67.03,"y":47.61},{"seg":"r","lvl":37.8208,"i":8,"x":68.13,"y":45.71},{"seg":"r","lvl":37.8208,"i":9,"x":69.23,"y":44.55},{"seg":"r","lvl":37.8208,"i":10,"x":70.56,"y":43.81},{"seg":"r","lvl":37.8208,"i":11,"x":71.9,"y":43.46},{"seg":"r","lvl":37.8208,"i":12,"x":74.75,"y":42.5},{"seg":"r","lvl":37.8208,"i":13,"x":77.65,"y":42.15},{"seg":"r","lvl":37.8208,"i":14,"x":80.3,"y":42.32},{"seg":"r","lvl":37.8208,"i":15,"x":82.82,"y":42.94},{"seg":"r","lvl":37.8208,"i":16,"x":84.26,"y":43.37},{"seg":"r","lvl":37.8208,"i":17,"x":85.14,"y":43.81},{"seg":"r","lvl":37.8208,"i":18,"x":86.69,"y":44.55},{"seg":"r","lvl":37.8208,"i":19,"x":88.67,"y":45.71},{"seg":"r","lvl":37.8208,"i":20,"x":90,"y":47.1},
{"seg":"g","lvl":38.997,"i":0,"x":74.98,"y":60},{"seg":"g","lvl":38.997,"i":1,"x":72.43,"y":57.84},{"seg":"g","lvl":38.997,"i":2,"x":71.0,"y":56.09},{"seg":"g","lvl":38.997,"i":3,"x":70.34,"y":54.92},{"seg":"g","lvl":38.997,"i":4,"x":70.11,"y":53.46},{"seg":"g","lvl":38.997,"i":5,"x":70.11,"y":52.43},{"seg":"g","lvl":38.997,"i":6,"x":70.34,"y":50.24},{"seg":"g","lvl":38.997,"i":7,"x":71.22,"y":48.05},{"seg":"g","lvl":38.997,"i":8,"x":72.77,"y":46.88},{"seg":"g","lvl":38.997,"i":9,"x":74.54,"y":46.3},{"seg":"g","lvl":38.997,"i":10,"x":76.74,"y":45.71},{"seg":"g","lvl":38.997,"i":11,"x":78.73,"y":45.54},{"seg":"g","lvl":38.997,"i":12,"x":80.72,"y":45.79},{"seg":"g","lvl":38.997,"i":13,"x":83.37,"y":46.59},{"seg":"g","lvl":38.997,"i":14,"x":85.58,"y":47.76},{"seg":"g","lvl":38.997,"i":15,"x":87.35,"y":49.22},{"seg":"g","lvl":38.997,"i":16,"x":88.67,"y":50.97},{"seg":"g","lvl":38.997,"i":17,"x":89.56,"y":53.02},{"seg":"g","lvl":38.997,"i":18,"x":89.78,"y":53.89},{"seg":"g","lvl":38.997,"i":19,"x":89.6,"y":55.6},{"seg":"g","lvl":38.997,"i":20,"x":89.2,"y":57.2},{"seg":"g","lvl":38.997,"i":21,"x":88.5,"y":58.7},{"seg":"g","lvl":38.997,"i":22,"x":87.13,"y":60}
],
"RC": [
{"seg":"p1","lvl":34.3011,"i":0,"x":40,"y":8.45},{"seg":"p1","lvl":34.3011,"i":1,"x":41.12,"y":8.32},{"seg":"p1","lvl":34.3011,"i":2,"x":42.16,"y":8.18},{"seg":"p1","lvl":34.3011,"i":3,"x":43.25,"y":8},
{"seg":"q1","lvl":35.4759,"i":0,"x":40,"y":9.01},{"seg":"q1","lvl":35.4759,"i":1,"x":41.12,"y":8.77},{"seg":"q1","lvl":35.4759,"i":2,"x":42.16,"y":8.58},{"seg":"q1","lvl":35.4759,"i":3,"x":43.47,"y":8.39},{"seg":"q1","lvl":35.4759,"i":4,"x":45.47,"y":8.26},{"seg":"q1","lvl":35.4759,"i":5,"x":47.08,"y":8.13},{"seg":"q1","lvl":35.4759,"i":6,"x":48.96,"y":8},
{"seg":"q2","lvl":35.4759,"i":0,"x":53.74,"y":8},{"seg":"q2","lvl":35.4759,"i":1,"x":56.23,"y":8.11},{"seg":"q2","lvl":35.4759,"i":2,"x":58.4,"y":8.25},{"seg":"q2","lvl":35.4759,"i":3,"x":60,"y":8.38},
{"seg":"s1","lvl":36.6506,"i":0,"x":40,"y":10.0},{"seg":"s1","lvl":36.6506,"i":1,"x":40.68,"y":9.72},{"seg":"s1","lvl":36.6506,"i":2,"x":42.16,"y":9.33},{"seg":"s1","lvl":36.6506,"i":3,"x":43.6,"y":9.01},{"seg":"s1","lvl":36.6506,"i":4,"x":45.47,"y":8.67},{"seg":"s1","lvl":36.6506,"i":5,"x":47.52,"y":8.54},{"seg":"s1","lvl":36.6506,"i":6,"x":48.96,"y":8.45},{"seg":"s1","lvl":36.6506,"i":7,"x":51.87,"y":8.38},{"seg":"s1","lvl":36.6506,"i":8,"x":54.79,"y":8.41},{"seg":"s1","lvl":36.6506,"i":9,"x":57.66,"y":8.58},{"seg":"s1","lvl":36.6506,"i":10,"x":59.58,"y":8.75},{"seg":"s1","lvl":36.6506,"i":11,"x":60,"y":8.81},
{"seg":"s2","lvl":36.6506,"i":0,"x":41.9,"y":12},{"seg":"s2","lvl":36.6506,"i":1,"x":41.12,"y":11.71},{"seg":"s2","lvl":36.6506,"i":2,"x":40.55,"y":11.42},{"seg":"s2","lvl":36.6506,"i":3,"x":40,"y":11.17},
{"seg":"t","lvl":37.8254,"i":0,"x":44.78,"y":12},{"seg":"t","lvl":37.8254,"i":1,"x":43.47,"y":11.51},{"seg":"t","lvl":37.8254,"i":2,"x":42.6,"y":11.08},{"seg":"t","lvl":37.8254,"i":3,"x":42.21,"y":10.65},{"seg":"t","lvl":37.8254,"i":4,"x":42.21,"y":10.54},{"seg":"t","lvl":37.8254,"i":5,"x":42.73,"y":10.11},{"seg":"t","lvl":37.8254,"i":6,"x":43.47,"y":9.81},{"seg":"t","lvl":37.8254,"i":7,"x":44.34,"y":9.5},{"seg":"t","lvl":37.8254,"i":8,"x":45.34,"y":9.3},{"seg":"t","lvl":37.8254,"i":9,"x":46.78,"y":9.1},{"seg":"t","lvl":37.8254,"i":10,"x":49.7,"y":8.9},{"seg":"t","lvl":37.8254,"i":11,"x":52.18,"y":8.84},{"seg":"t","lvl":37.8254,"i":12,"x":54.35,"y":8.88},{"seg":"t","lvl":37.8254,"i":13,"x":56.53,"y":9.01},{"seg":"t","lvl":37.8254,"i":14,"x":58.53,"y":9.18},{"seg":"t","lvl":37.8254,"i":15,"x":60,"y":9.34},
{"seg":"u","lvl":39.0002,"i":0,"x":49.09,"y":12},{"seg":"u","lvl":39.0002,"i":1,"x":48.39,"y":11.92},{"seg":"u","lvl":39.0002,"i":2,"x":47.52,"y":11.73},{"seg":"u","lvl":39.0002,"i":3,"x":46.95,"y":11.57},{"seg":"u","lvl":39.0002,"i":4,"x":46.08,"y":11.23},{"seg":"u","lvl":39.0002,"i":5,"x":45.65,"y":10.93},{"seg":"u","lvl":39.0002,"i":6,"x":45.52,"y":10.69},{"seg":"u","lvl":39.0002,"i":7,"x":45.65,"y":10.54},{"seg":"u","lvl":39.0002,"i":8,"x":46.21,"y":10.24},{"seg":"u","lvl":39.0002,"i":9,"x":47.08,"y":9.96},{"seg":"u","lvl":39.0002,"i":10,"x":47.95,"y":9.73},{"seg":"u","lvl":39.0002,"i":11,"x":49.26,"y":9.59},{"seg":"u","lvl":39.0002,"i":12,"x":50.7,"y":9.49},{"seg":"u","lvl":39.0002,"i":13,"x":52.74,"y":9.44},{"seg":"u","lvl":39.0002,"i":14,"x":55.05,"y":9.5},{"seg":"u","lvl":39.0002,"i":15,"x":57.23,"y":9.67},{"seg":"u","lvl":39.0002,"i":16,"x":58.71,"y":9.9},{"seg":"u","lvl":39.0002,"i":17,"x":60,"y":10.16}
],
"LL": [
{"t":"36.6446","x":63.2,"y":48.99},{"t":"35.4684","x":62.74,"y":43.99},{"t":"37.8208","x":69.66,"y":45.02},{"t":"38.997","x":78.71,"y":45.98},{"t":"36.6446","x":86.17,"y":41.99}
],
"RL": [
{"t":"39.0002","x":47.95,"y":9.82},{"t":"37.8254","x":45.28,"y":9.4},{"t":"36.6506","x":47.45,"y":8.59},{"t":"35.4759","x":43.49,"y":8.5},{"t":"34.3011","x":41.95,"y":8.24},{"t":"35.4759","x":56.94,"y":8.24}
]
},
"hconcat": [
{
  "width": 584, "height": 615,
  "title": {"text": "OY", "fontSize": 26, "fontWeight": "normal", "font": "Liberation Sans", "color": "#000000", "anchor": "middle", "frame": "group", "offset": -60.7, "dx": 36, "baseline": "alphabetic"},
  "encoding": {
    "x": {"field": "x", "type": "quantitative", "scale": {"domain": [60, 90], "range": [102.7, 555.3], "nice": false, "zero": false}, "axis": {"title": "A: Time", "values": [60, 67.5, 75, 82.5, 90], "format": ".2f", "offset": -116, "labelPadding": 6, "titlePadding": 48}},
    "y": {"field": "y", "type": "quantitative", "scale": {"domain": [40, 60], "range": [499, 42.7], "nice": false, "zero": false}, "axis": {"title": "B: Temperature", "values": [40, 45, 50, 55, 60], "format": ".2f", "offset": -102.7, "labelPadding": 5, "titlePadding": 22}}
  },
  "layer": [
    {"data": {"name": "L"}, "mark": {"type": "point", "shape": "square", "size": 576, "filled": true, "opacity": 1, "strokeWidth": 0},
     "encoding": {"color": {"field": "oy", "type": "quantitative", "legend": null, "scale": {"type": "linear", "domain": [33.5, 34.9, 36.6, 38.45, 40.1], "range": ["#0040ff", "#00ffff", "#00ff00", "#ffff00", "#ff5500"], "interpolate": "rgb", "clamp": true}}}},
    {"data": {"name": "LC"}, "mark": {"type": "line", "strokeWidth": 1.1, "interpolate": "catmull-rom"},
     "encoding": {"detail": {"field": "seg", "type": "nominal"}, "order": {"field": "i", "type": "quantitative"}, "stroke": {"condition": {"test": "datum.lvl == 37.8208", "value": "#ff0000"}, "value": "#000000"}}},
    {"data": {"values": [{}]}, "mark": {"type": "rect", "fill": null, "stroke": "#000000", "strokeWidth": 1},
     "encoding": {"x": {"datum": 60}, "x2": {"datum": 90}, "y": {"datum": 40}, "y2": {"datum": 60}}},
    {"data": {"name": "LL"}, "transform": [{"filter": "length(datum.t) == 7"}], "mark": {"type": "point", "shape": "M-1,-0.2836H1V0.2836H-1Z", "size": 4489, "filled": true, "fill": "#ffffff", "opacity": 1, "strokeWidth": 1},
     "encoding": {"stroke": {"condition": {"test": "datum.t == '37.8208'", "value": "#ff0000"}, "value": "#000000"}}},
    {"data": {"name": "LL"}, "transform": [{"filter": "length(datum.t) == 6"}], "mark": {"type": "point", "shape": "M-1,-0.3276H1V0.3276H-1Z", "size": 3364, "filled": true, "fill": "#ffffff", "opacity": 1, "strokeWidth": 1, "stroke": "#000000"}},
    {"data": {"name": "LL"}, "mark": {"type": "text", "fontSize": 16, "font": "Liberation Sans", "color": "#000000", "align": "center", "baseline": "middle", "dy": 1}, "encoding": {"text": {"field": "t", "type": "nominal"}}}
  ]
},
{
  "width": 597, "height": 615,
  "title": {"text": "OY", "fontSize": 26, "fontWeight": "normal", "font": "Liberation Sans", "color": "#000000", "anchor": "middle", "frame": "group", "offset": -52.3, "dx": 33, "baseline": "alphabetic"},
  "encoding": {
    "x": {"field": "x", "type": "quantitative", "scale": {"domain": [40, 60], "range": [104.3, 563.7], "nice": false, "zero": false}, "axis": {"title": "B: Temperature", "values": [40, 45, 50, 55, 60], "format": ".2f", "offset": -115.7, "labelPadding": 6, "titlePadding": 48}},
    "y": {"field": "y", "type": "quantitative", "scale": {"domain": [8, 12], "range": [499.3, 35.3], "nice": false, "zero": false}, "axis": {"title": "C: Solvent to seed ratio", "values": [8, 9, 10, 11, 12], "format": ".2f", "offset": -104.3, "labelPadding": 6, "titlePadding": 28}}
  },
  "layer": [
    {"data": {"name": "R"}, "mark": {"type": "point", "shape": "square", "size": 576, "filled": true, "opacity": 1, "strokeWidth": 0},
     "encoding": {"color": {"field": "oy", "type": "quantitative", "legend": null, "scale": {"type": "linear", "domain": [33.5, 34.9, 36.6, 38.5, 40.2], "range": ["#0040ff", "#00ffff", "#00ff00", "#ffff00", "#ff5500"], "interpolate": "rgb", "clamp": true}}}},
    {"data": {"name": "RC"}, "mark": {"type": "line", "strokeWidth": 1.1, "interpolate": "catmull-rom", "stroke": "#000000"},
     "encoding": {"detail": {"field": "seg", "type": "nominal"}, "order": {"field": "i", "type": "quantitative"}}},
    {"data": {"values": [{}]}, "mark": {"type": "rect", "fill": null, "stroke": "#000000", "strokeWidth": 1},
     "encoding": {"x": {"datum": 40}, "x2": {"datum": 60}, "y": {"datum": 8}, "y2": {"datum": 12}}},
    {"data": {"name": "RL"}, "mark": {"type": "point", "shape": "M-1,-0.2836H1V0.2836H-1Z", "size": 4489, "filled": true, "fill": "#ffffff", "opacity": 1, "strokeWidth": 1, "stroke": "#000000"}},
    {"data": {"name": "RL"}, "mark": {"type": "text", "fontSize": 16, "font": "Liberation Sans", "color": "#000000", "align": "center", "baseline": "middle", "dy": 1}, "encoding": {"text": {"field": "t", "type": "nominal"}}}
  ]
}
]
}
